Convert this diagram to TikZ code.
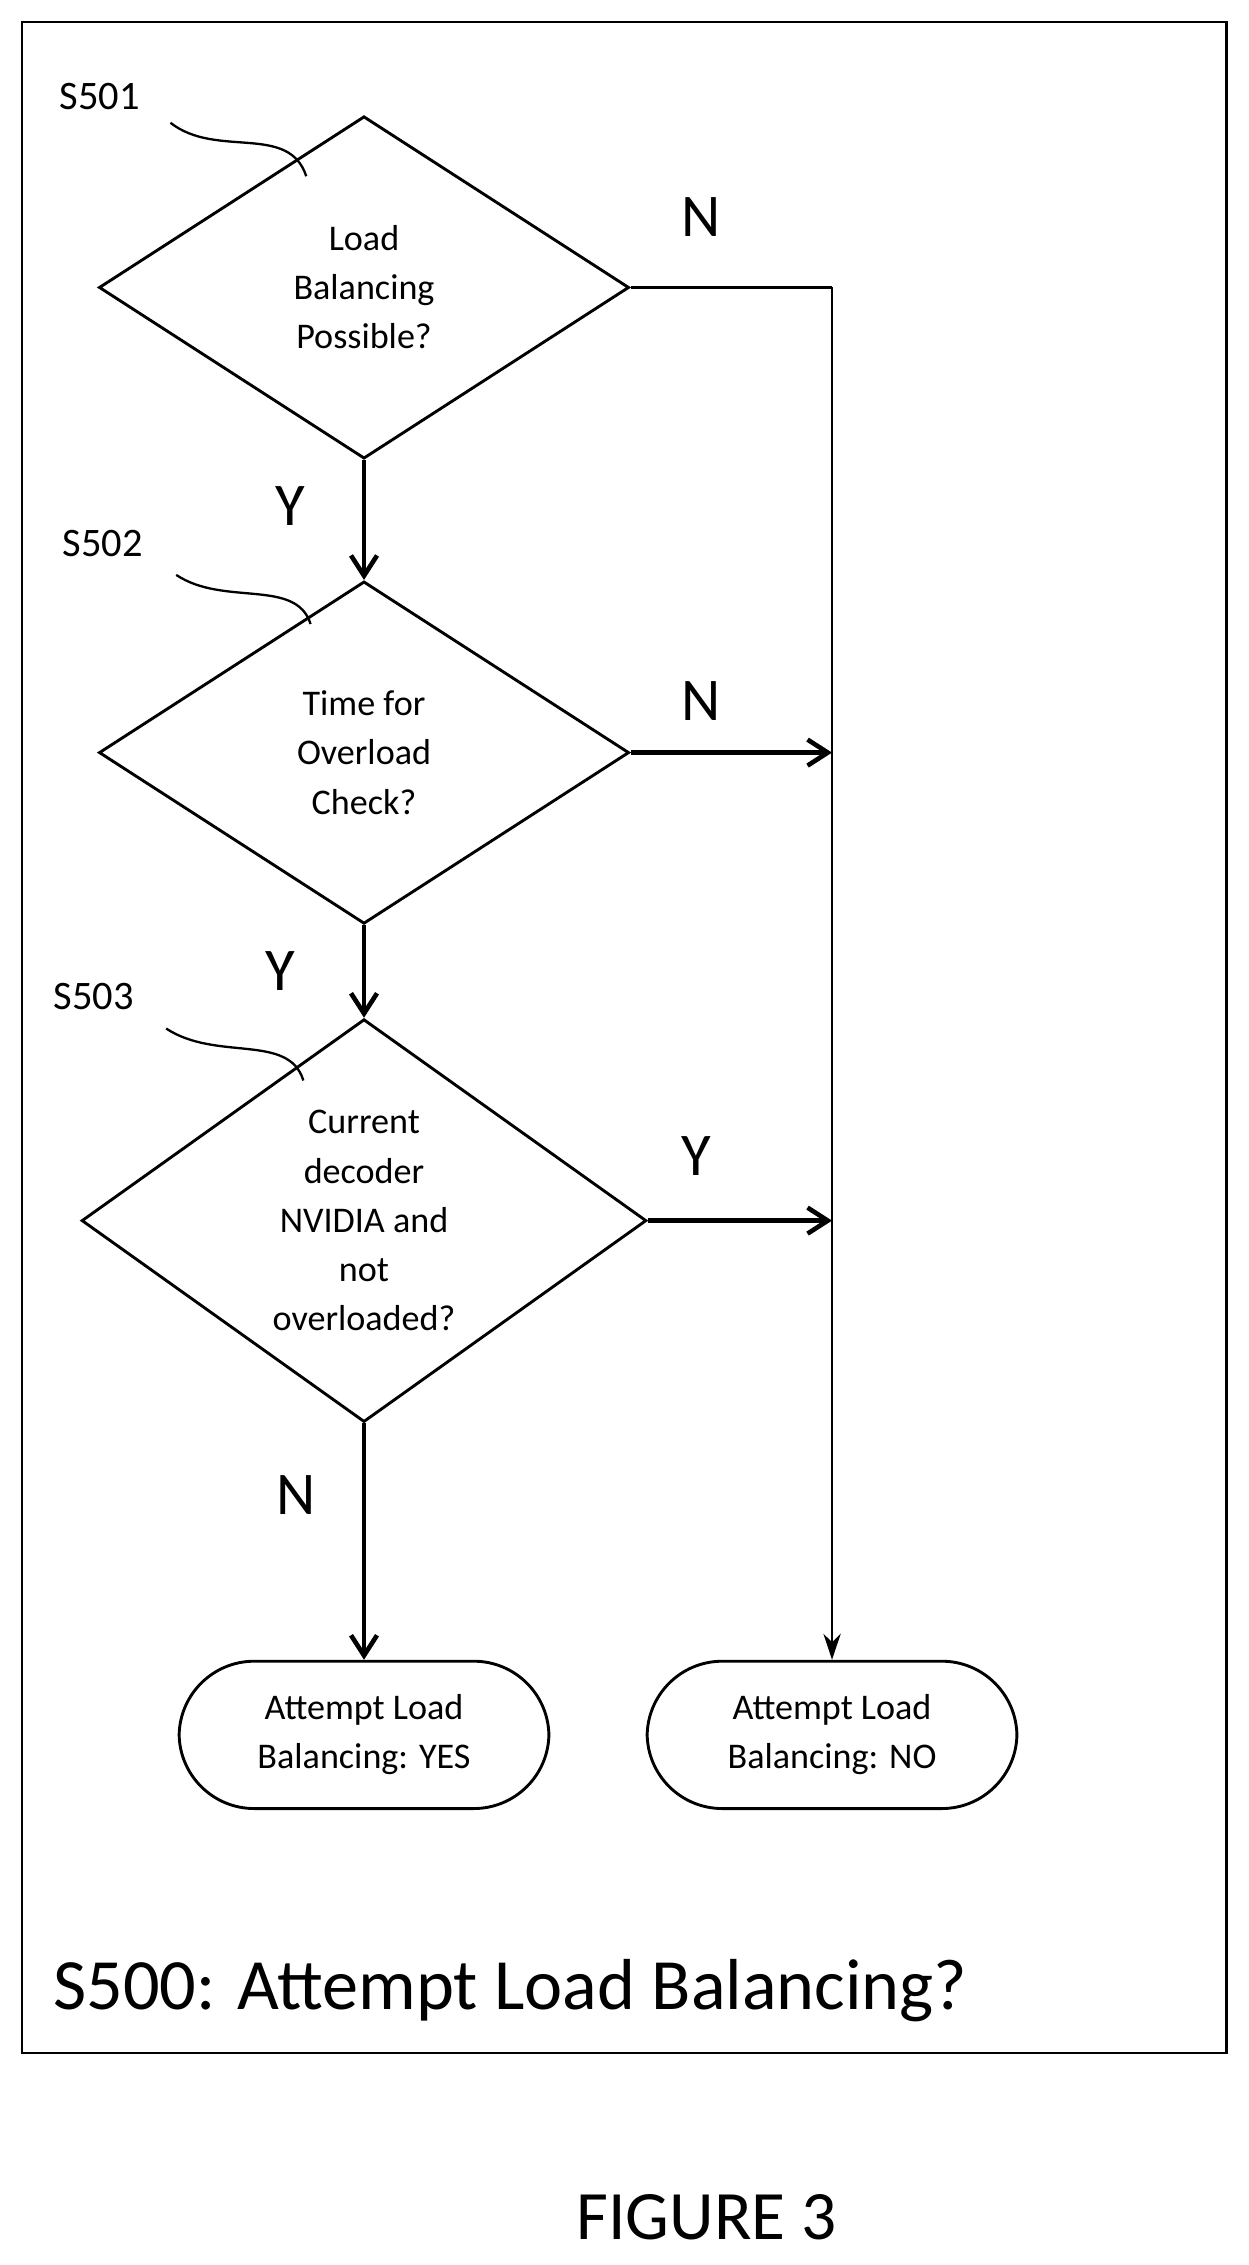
\documentclass[tikz,border=0pt]{standalone}
\usepackage{fontspec}
\setmainfont{Carlito}
\usetikzlibrary{shapes.geometric,arrows.meta}

\begin{document}
\begin{tikzpicture}[x=0.5pt,y=-0.5pt,
	dec/.style = {draw, diamond, line width=1pt, inner sep=0pt, minimum width=183.5pt, minimum height=118.5pt, align=center, font=\fontsize{12.5}{17}\selectfont},
	term/.style = {draw, rounded corners=26pt, line width=1pt, minimum width=128pt, minimum height=51pt, align=center, font=\fontsize{12.5}{17}\selectfont},
	flow/.style = {line width=1.6pt, -{Straight Barb[length=7pt,width=9pt]}},
	plain/.style = {line width=0.8pt},
	yn/.style = {font=\fontsize{21}{23}\selectfont},
	steplbl/.style = {font=\fontsize{14}{16}\selectfont}]
	\useasboundingbox (0,0) rectangle (864,1568);
	\draw[plain] (15,15) rectangle (849,1421);
	\node[dec] (1) at (252,199) {Load\\Balancing\\Possible?};
	\node[dec] (2) at (252,521) {Time for\\Overload\\Check?};
	\node[dec, minimum width=195.5pt] (3) at (252,845) {Current\\decoder\\NVIDIA and\\not\\overloaded?};
	\node[term] (4) at (252,1201) {Attempt Load\\Balancing: YES};
	\node[term] (5) at (576,1201) {Attempt Load\\Balancing: NO};
	\coordinate (r1) at (576,199);
	\coordinate (r2) at (576,521);
	\coordinate (r3) at (576,845);
	\draw[plain] (1.east) -- (r1);
	\draw[plain, -{Stealth[length=9pt,width=6pt]}] (r1) -- (5.north);
	\draw[flow] (1.south) -- (2.north);
	\draw[flow] (2.south) -- (3.north);
	\draw[flow] (3.south) -- (4.north);
	\draw[flow] (2.east) -- (r2);
	\draw[flow] (3.east) -- (r3);
	\node[yn] (n1) at (485,150) {N};
	\node[yn] (n2) at (485,485) {N};
	\node[yn] (y3) at (482,800) {Y};
	\node[yn] (y1) at (201,350) {Y};
	\node[yn] (y2) at (194,672) {Y};
	\node[yn] (n3) at (205,1035) {N};
	% step labels and leaders
	\node[steplbl] (s1) at (69,67) {S501};
	\node[steplbl] (s2) at (71,376) {S502};
	\node[steplbl] (s3) at (65,690) {S503};
	\draw[plain] (118,85) .. controls (150,110) and (200,85) .. (212,122);
	\draw[plain] (122,398) .. controls (155,420) and (205,400) .. (215,432);
	\draw[plain] (115,712) .. controls (150,735) and (200,715) .. (210,748);
	\node[anchor=west, font=\fontsize{25}{29}\selectfont] (t) at (30,1378) {S500: Attempt Load Balancing?};
	\node[font=\fontsize{24}{27}\selectfont] (f) at (489,1535) {FIGURE 3};
\end{tikzpicture}
\end{document}
